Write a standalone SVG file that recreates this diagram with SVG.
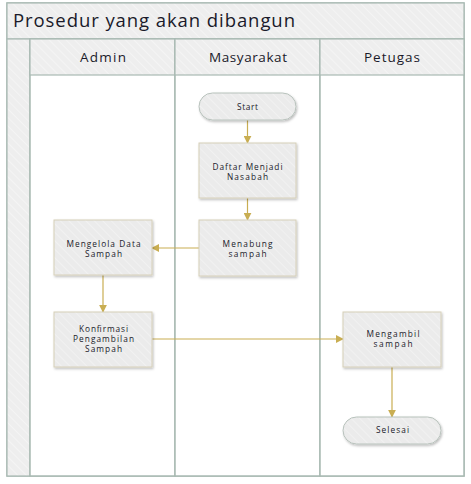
<svg xmlns="http://www.w3.org/2000/svg" width="471" height="484" viewBox="0 0 471 484">
<style>
.hdr{fill:url(#hatchH);stroke:#A9BAB3;stroke-width:1.2}
.lane{fill:#FFFFFF;stroke:#A9BAB3;stroke-width:1.5}
.box{fill:url(#hatchB);stroke:#D6CFB8;stroke-width:1;filter:url(#sh)}
.t{font-family:"Open Sans","Noto Sans","DejaVu Sans",sans-serif;fill:#1a1a2a;text-anchor:middle}
.nt{font-size:8.3px}
.lt{font-size:13.5px}
.con{stroke:#C9AE52;stroke-width:1.2;fill:none;marker-end:url(#arr)}
</style>
<defs>
<pattern id="hatchH" width="6" height="6" patternUnits="userSpaceOnUse" patternTransform="rotate(-45)">
<rect width="6" height="6" fill="#EEEEEE"/>
<line x1="0" y1="0" x2="0" y2="6" stroke="#F6F6F6" stroke-width="1.5"/>
</pattern>
<pattern id="hatchB" width="6" height="6" patternUnits="userSpaceOnUse" patternTransform="rotate(-45)">
<rect width="6" height="6" fill="#EBEBEB"/>
<line x1="0" y1="0" x2="0" y2="6" stroke="#F3F3F3" stroke-width="1.5"/>
</pattern>
<filter id="sh" x="-10%" y="-10%" width="125%" height="130%">
<feDropShadow dx="1" dy="1.5" stdDeviation="1" flood-color="#000" flood-opacity="0.25"/>
</filter>
<marker id="arr" viewBox="0 0 10 10" refX="9" refY="5" markerWidth="8" markerHeight="8" markerUnits="userSpaceOnUse" orient="auto">
<path d="M0,0 L10,5 L0,10 z" fill="#C9AE52"/>
</marker>
</defs>
<g id="pool">
<rect x="7" y="3" width="457" height="473" fill="#FFFFFF" stroke="#A9BAB3" stroke-width="1.5"/>
<rect class="hdr" x="7" y="3" width="457" height="36"/>
<text x="13" y="27" font-family="Open Sans,Noto Sans,sans-serif" font-size="18.5" fill="#1a1a2a" textLength="282" lengthAdjust="spacing">Prosedur yang akan dibangun</text>
<rect class="hdr" x="7" y="39" width="23" height="437"/>
</g>
<g id="lane-admin">
<rect class="lane" x="30" y="39" width="145" height="437"/>
<rect class="hdr" x="30" y="39" width="145" height="36"/>
<text class="t lt" x="103" y="62" textLength="46" lengthAdjust="spacing">Admin</text>
</g>
<g id="lane-masyarakat">
<rect class="lane" x="175" y="39" width="145" height="437"/>
<rect class="hdr" x="175" y="39" width="145" height="36"/>
<text class="t lt" x="248" y="62" textLength="78" lengthAdjust="spacing">Masyarakat</text>
</g>
<g id="lane-petugas">
<rect class="lane" x="320" y="39" width="144" height="437"/>
<rect class="hdr" x="320" y="39" width="144" height="36"/>
<text class="t lt" x="392" y="62" textLength="56" lengthAdjust="spacing">Petugas</text>
</g>
<g id="connectors">
<line class="con" x1="247.5" y1="120" x2="247.5" y2="143"/>
<line class="con" x1="247.5" y1="198" x2="247.5" y2="220"/>
<line class="con" x1="199" y1="248" x2="152" y2="248"/>
<line class="con" x1="103" y1="275" x2="103" y2="312"/>
<line class="con" x1="152" y1="339" x2="343" y2="339"/>
<line class="con" x1="392" y1="367" x2="392" y2="417"/>
</g>
<g id="start">
<rect class="box" x="199" y="93" width="97" height="27" rx="13.5" ry="13.5" style="stroke:#B8C2BC"/>
<text class="t nt" x="247.5" y="110" textLength="21" lengthAdjust="spacing">Start</text>
</g>
<g id="daftar">
<rect class="box" x="199" y="143" width="97" height="55"/>
<text class="t nt" x="247.5" y="169.5" textLength="70" lengthAdjust="spacing">Daftar Menjadi</text>
<text class="t nt" x="247.5" y="179.5" textLength="41" lengthAdjust="spacing">Nasabah</text>
</g>
<g id="menabung">
<rect class="box" x="199" y="220" width="97" height="56"/>
<text class="t nt" x="247.5" y="246.5" textLength="50" lengthAdjust="spacing">Menabung</text>
<text class="t nt" x="247.5" y="256.5" textLength="38" lengthAdjust="spacing">sampah</text>
</g>
<g id="mengelola">
<rect class="box" x="54" y="220" width="98" height="55"/>
<text class="t nt" x="103.5" y="246.5" textLength="74" lengthAdjust="spacing">Mengelola Data</text>
<text class="t nt" x="103.5" y="256.5" textLength="37" lengthAdjust="spacing">Sampah</text>
</g>
<g id="konfirmasi">
<rect class="box" x="54" y="312" width="98" height="55"/>
<text class="t nt" x="103.5" y="332" textLength="49" lengthAdjust="spacing">Konfirmasi</text>
<text class="t nt" x="103.5" y="342" textLength="61" lengthAdjust="spacing">Pengambilan</text>
<text class="t nt" x="103.5" y="352" textLength="37" lengthAdjust="spacing">Sampah</text>
</g>
<g id="mengambil">
<rect class="box" x="343" y="312" width="98" height="55"/>
<text class="t nt" x="393" y="337" textLength="53" lengthAdjust="spacing">Mengambil</text>
<text class="t nt" x="393" y="347" textLength="39" lengthAdjust="spacing">sampah</text>
</g>
<g id="selesai">
<rect class="box" x="343" y="417" width="98" height="27" rx="13.5" ry="13.5" style="stroke:#B8C2BC"/>
<text class="t nt" x="392.5" y="433" textLength="33" lengthAdjust="spacing">Selesai</text>
</g>
</svg>
